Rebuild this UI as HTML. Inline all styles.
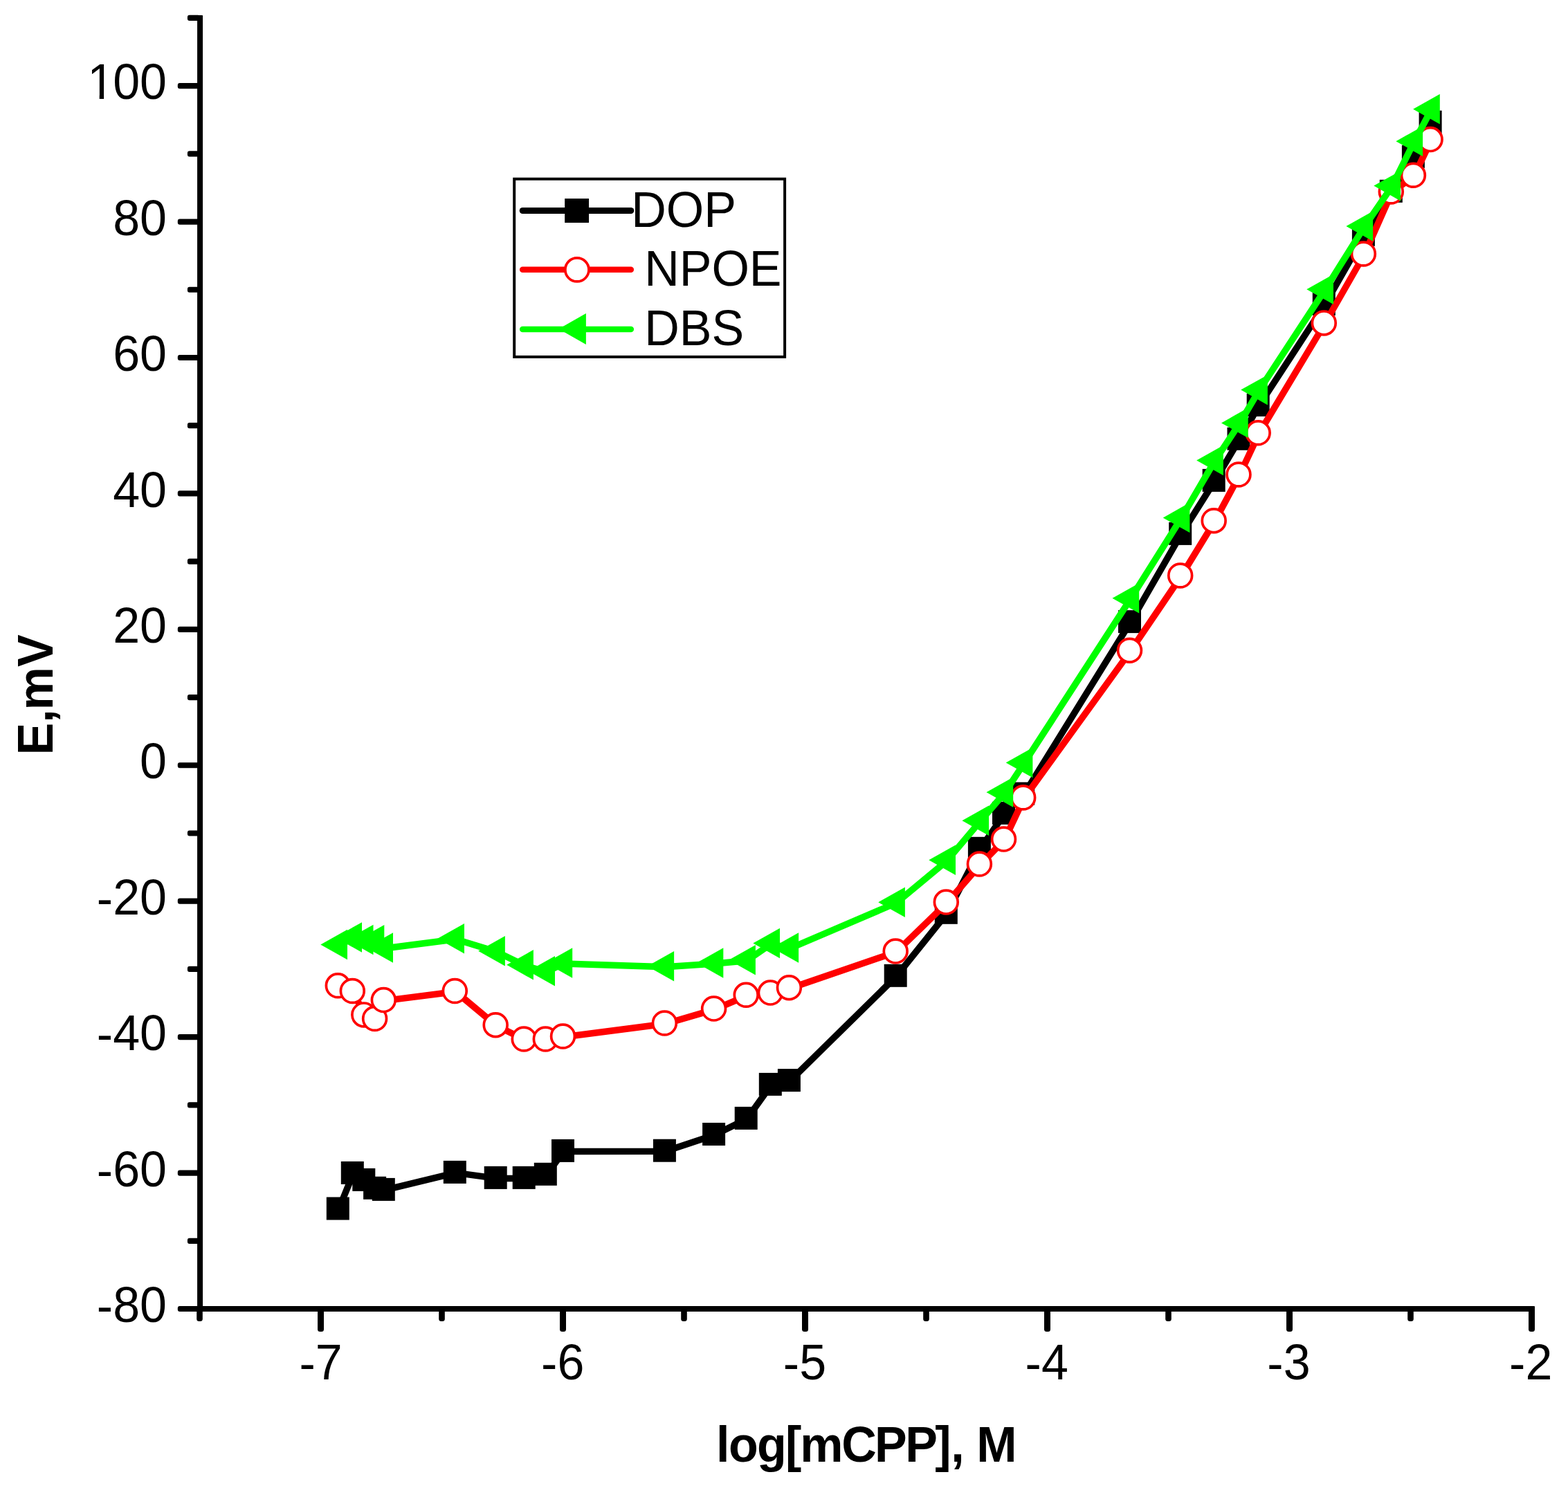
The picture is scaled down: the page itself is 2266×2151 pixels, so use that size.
<!DOCTYPE html>
<html lang="en"><head><meta charset="utf-8"><title>E, mV vs log[mCPP]</title>
<style>html,body{margin:0;padding:0;background:#fff}body{width:2266px;height:2151px;overflow:hidden}svg{display:block}text{font-family:"Liberation Sans",Arial,sans-serif;font-size:70px;fill:#000}.b{font-weight:bold}</style></head><body>
<svg width="2266" height="2151" viewBox="0 0 2266 2151">
<rect x="0" y="0" width="2266" height="2151" fill="#fff"/>
<g id="axes">
<rect x="285.05" y="21.90" width="8.00" height="1874.10" fill="#000" rx="1.0"/>
<rect x="285.05" y="1888.00" width="1932.95" height="8.00" fill="#000" rx="1.0"/>
<rect x="270.90" y="21.80" width="18.15" height="8.20" fill="#000" rx="3.0"/>
<rect x="256.80" y="120.02" width="32.25" height="8.20" fill="#000" rx="3.0"/>
<rect x="270.90" y="218.23" width="18.15" height="8.20" fill="#000" rx="3.0"/>
<rect x="256.80" y="316.45" width="32.25" height="8.20" fill="#000" rx="3.0"/>
<rect x="270.90" y="414.66" width="18.15" height="8.20" fill="#000" rx="3.0"/>
<rect x="256.80" y="512.88" width="32.25" height="8.20" fill="#000" rx="3.0"/>
<rect x="270.90" y="611.09" width="18.15" height="8.20" fill="#000" rx="3.0"/>
<rect x="256.80" y="709.31" width="32.25" height="8.20" fill="#000" rx="3.0"/>
<rect x="270.90" y="807.53" width="18.15" height="8.20" fill="#000" rx="3.0"/>
<rect x="256.80" y="905.74" width="32.25" height="8.20" fill="#000" rx="3.0"/>
<rect x="270.90" y="1003.96" width="18.15" height="8.20" fill="#000" rx="3.0"/>
<rect x="256.80" y="1102.17" width="32.25" height="8.20" fill="#000" rx="3.0"/>
<rect x="270.90" y="1200.39" width="18.15" height="8.20" fill="#000" rx="3.0"/>
<rect x="256.80" y="1298.61" width="32.25" height="8.20" fill="#000" rx="3.0"/>
<rect x="270.90" y="1396.82" width="18.15" height="8.20" fill="#000" rx="3.0"/>
<rect x="256.80" y="1495.04" width="32.25" height="8.20" fill="#000" rx="3.0"/>
<rect x="270.90" y="1593.25" width="18.15" height="8.20" fill="#000" rx="3.0"/>
<rect x="256.80" y="1691.47" width="32.25" height="8.20" fill="#000" rx="3.0"/>
<rect x="270.90" y="1789.68" width="18.15" height="8.20" fill="#000" rx="3.0"/>
<rect x="256.80" y="1887.90" width="32.25" height="8.20" fill="#000" rx="3.0"/>
<rect x="284.20" y="1892.00" width="8.60" height="18.00" fill="#000" rx="3.5"/>
<rect x="459.00" y="1892.00" width="9.00" height="33.00" fill="#000" rx="3.5"/>
<rect x="634.20" y="1892.00" width="8.60" height="18.00" fill="#000" rx="3.5"/>
<rect x="809.00" y="1892.00" width="9.00" height="33.00" fill="#000" rx="3.5"/>
<rect x="984.20" y="1892.00" width="8.60" height="18.00" fill="#000" rx="3.5"/>
<rect x="1159.00" y="1892.00" width="9.00" height="33.00" fill="#000" rx="3.5"/>
<rect x="1334.20" y="1892.00" width="8.60" height="18.00" fill="#000" rx="3.5"/>
<rect x="1509.00" y="1892.00" width="9.00" height="33.00" fill="#000" rx="3.5"/>
<rect x="1684.20" y="1892.00" width="8.60" height="18.00" fill="#000" rx="3.5"/>
<rect x="1859.00" y="1892.00" width="9.00" height="33.00" fill="#000" rx="3.5"/>
<rect x="2034.20" y="1892.00" width="8.60" height="18.00" fill="#000" rx="3.5"/>
<rect x="2209.00" y="1892.00" width="9.00" height="33.00" fill="#000" rx="3.5"/>
</g>
<g id="ylabels" text-anchor="end">
<clipPath id="c1" clipPathUnits="userSpaceOnUse"><rect x="100" y="72.92" width="160" height="64.20"/><rect x="143.71" y="136.42" width="6.39" height="12"/><rect x="164.64" y="136.42" width="90" height="12"/></clipPath>
<g clip-path="url(#c1)"><text text-anchor="start" transform="translate(124.21,142.92) scale(1,1.030)" x="2 38.93 77.86">100</text></g>
<text transform="translate(241.00,339.65) scale(1,1.030)">80</text>
<text transform="translate(241.00,536.08) scale(1,1.030)">60</text>
<text transform="translate(241.00,732.51) scale(1,1.030)">40</text>
<text transform="translate(241.00,928.94) scale(1,1.030)">20</text>
<text transform="translate(241.00,1125.37) scale(1,1.030)">0</text>
<text transform="translate(241.00,1321.81) scale(1,1.030)" dy="1.1 -1.1">-20</text>
<text transform="translate(241.00,1518.24) scale(1,1.030)" dy="1.1 -1.1">-40</text>
<text transform="translate(241.00,1714.67) scale(1,1.030)" dy="1.1 -1.1">-60</text>
<text transform="translate(241.00,1911.10) scale(1,1.030)" dy="1.1 -1.1">-80</text>
</g>
<g id="xlabels" text-anchor="middle">
<text transform="translate(463.50,1993.90) scale(1,1.030)" dy="1.1 -1.1">-7</text>
<text transform="translate(813.24,1993.90) scale(1,1.030)" dy="1.1 -1.1">-6</text>
<text transform="translate(1162.98,1993.90) scale(1,1.030)" dy="1.1 -1.1">-5</text>
<text transform="translate(1512.72,1993.90) scale(1,1.030)" dy="1.1 -1.1">-4</text>
<text transform="translate(1862.46,1993.90) scale(1,1.030)" dy="1.1 -1.1">-3</text>
<text transform="translate(2212.20,1993.90) scale(1,1.030)" dy="1.1 -1.1">-2</text>
</g>
<text class="b" transform="translate(1035.10,2113.00) scale(1,1.025)" x="0.0 18.0 58.8 100.0 121.2 181.2 229.0 273.1 316.1 339.2 356.9 376.2">log[mCPP], M</text>
<text class="b" transform="translate(76.00,1091.60) rotate(-90) scale(1,1.030)" x="0.00 46.95 65.10 127.50">E,mV</text>
<g id="dop">
<polyline points="489.5,1748.0 510.5,1696.4 527.0,1706.4 542.8,1718.3 555.5,1720.4 658.5,1695.4 717.4,1703.4 758.4,1703.4 789.5,1698.3 814.7,1664.4 961.6,1664.2 1032.8,1640.5 1079.4,1617.4 1114.5,1568.4 1141.6,1562.6 1295.4,1411.3 1368.5,1320.3 1416.6,1227.3 1451.7,1176.4 1479.9,1148.2 1633.7,899.6 1706.9,772.4 1755.4,695.4 1791.2,635.3 1819.4,586.5 1914.5,440.5 1971.6,340.3 2011.5,277.3 2043.6,227.4 2068.3,177.3" fill="none" stroke="#000" stroke-width="9.5" stroke-linejoin="round" stroke-linecap="butt"/>
<rect x="471.80" y="1730.50" width="33.00" height="33.00" fill="#000"/>
<rect x="492.80" y="1678.90" width="33.00" height="33.00" fill="#000"/>
<rect x="509.30" y="1688.90" width="33.00" height="33.00" fill="#000"/>
<rect x="525.10" y="1700.80" width="33.00" height="33.00" fill="#000"/>
<rect x="537.80" y="1702.90" width="33.00" height="33.00" fill="#000"/>
<rect x="640.80" y="1677.90" width="33.00" height="33.00" fill="#000"/>
<rect x="699.70" y="1685.90" width="33.00" height="33.00" fill="#000"/>
<rect x="740.70" y="1685.90" width="33.00" height="33.00" fill="#000"/>
<rect x="771.80" y="1680.80" width="33.00" height="33.00" fill="#000"/>
<rect x="797.00" y="1646.90" width="33.00" height="33.00" fill="#000"/>
<rect x="943.90" y="1646.70" width="33.00" height="33.00" fill="#000"/>
<rect x="1015.10" y="1623.00" width="33.00" height="33.00" fill="#000"/>
<rect x="1061.70" y="1599.90" width="33.00" height="33.00" fill="#000"/>
<rect x="1096.80" y="1550.90" width="33.00" height="33.00" fill="#000"/>
<rect x="1123.90" y="1545.10" width="33.00" height="33.00" fill="#000"/>
<rect x="1277.70" y="1393.80" width="33.00" height="33.00" fill="#000"/>
<rect x="1350.80" y="1302.80" width="33.00" height="33.00" fill="#000"/>
<rect x="1398.90" y="1209.80" width="33.00" height="33.00" fill="#000"/>
<rect x="1434.00" y="1158.90" width="33.00" height="33.00" fill="#000"/>
<rect x="1462.20" y="1130.70" width="33.00" height="33.00" fill="#000"/>
<rect x="1616.00" y="882.10" width="33.00" height="33.00" fill="#000"/>
<rect x="1689.20" y="754.90" width="33.00" height="33.00" fill="#000"/>
<rect x="1737.70" y="677.90" width="33.00" height="33.00" fill="#000"/>
<rect x="1773.50" y="617.80" width="33.00" height="33.00" fill="#000"/>
<rect x="1801.70" y="569.00" width="33.00" height="33.00" fill="#000"/>
<rect x="1896.80" y="423.00" width="33.00" height="33.00" fill="#000"/>
<rect x="1953.90" y="322.80" width="33.00" height="33.00" fill="#000"/>
<rect x="1993.80" y="259.80" width="33.00" height="33.00" fill="#000"/>
<rect x="2025.90" y="209.90" width="33.00" height="33.00" fill="#000"/>
<rect x="2050.60" y="159.80" width="33.00" height="33.00" fill="#000"/>
</g>
<g id="npoe">
<polyline points="489.5,1425.8 510.5,1433.5 527.0,1467.9 542.8,1473.5 555.5,1446.6 658.5,1433.5 717.4,1482.7 758.4,1503.0 789.5,1503.0 814.7,1499.0 961.6,1480.0 1032.8,1459.1 1079.4,1439.3 1114.5,1436.1 1141.6,1428.7 1295.4,1376.1 1368.5,1305.1 1416.6,1250.0 1451.7,1214.1 1479.9,1154.0 1633.7,941.2 1706.9,833.0 1755.4,753.7 1791.2,687.0 1819.4,626.8 1914.5,467.9 1971.6,368.0 2011.5,278.0 2043.6,254.3 2068.3,202.6" fill="none" stroke="#f00" stroke-width="9.5" stroke-linejoin="round" stroke-linecap="butt"/>
<circle cx="488.3" cy="1424.8" r="16.90" fill="#fff" stroke="#f00" stroke-width="3.7"/>
<circle cx="509.3" cy="1432.5" r="16.90" fill="#fff" stroke="#f00" stroke-width="3.7"/>
<circle cx="525.8" cy="1466.9" r="16.90" fill="#fff" stroke="#f00" stroke-width="3.7"/>
<circle cx="541.6" cy="1472.5" r="16.90" fill="#fff" stroke="#f00" stroke-width="3.7"/>
<circle cx="554.3" cy="1445.6" r="16.90" fill="#fff" stroke="#f00" stroke-width="3.7"/>
<circle cx="657.3" cy="1432.5" r="16.90" fill="#fff" stroke="#f00" stroke-width="3.7"/>
<circle cx="716.2" cy="1481.7" r="16.90" fill="#fff" stroke="#f00" stroke-width="3.7"/>
<circle cx="757.2" cy="1502.0" r="16.90" fill="#fff" stroke="#f00" stroke-width="3.7"/>
<circle cx="788.3" cy="1502.0" r="16.90" fill="#fff" stroke="#f00" stroke-width="3.7"/>
<circle cx="813.5" cy="1498.0" r="16.90" fill="#fff" stroke="#f00" stroke-width="3.7"/>
<circle cx="960.4" cy="1479.0" r="16.90" fill="#fff" stroke="#f00" stroke-width="3.7"/>
<circle cx="1031.6" cy="1458.1" r="16.90" fill="#fff" stroke="#f00" stroke-width="3.7"/>
<circle cx="1078.2" cy="1438.3" r="16.90" fill="#fff" stroke="#f00" stroke-width="3.7"/>
<circle cx="1113.3" cy="1435.1" r="16.90" fill="#fff" stroke="#f00" stroke-width="3.7"/>
<circle cx="1140.4" cy="1427.7" r="16.90" fill="#fff" stroke="#f00" stroke-width="3.7"/>
<circle cx="1294.2" cy="1375.1" r="16.90" fill="#fff" stroke="#f00" stroke-width="3.7"/>
<circle cx="1367.3" cy="1304.1" r="16.90" fill="#fff" stroke="#f00" stroke-width="3.7"/>
<circle cx="1415.4" cy="1249.0" r="16.90" fill="#fff" stroke="#f00" stroke-width="3.7"/>
<circle cx="1450.5" cy="1213.1" r="16.90" fill="#fff" stroke="#f00" stroke-width="3.7"/>
<circle cx="1478.7" cy="1153.0" r="16.90" fill="#fff" stroke="#f00" stroke-width="3.7"/>
<circle cx="1632.5" cy="940.2" r="16.90" fill="#fff" stroke="#f00" stroke-width="3.7"/>
<circle cx="1705.7" cy="832.0" r="16.90" fill="#fff" stroke="#f00" stroke-width="3.7"/>
<circle cx="1754.2" cy="752.7" r="16.90" fill="#fff" stroke="#f00" stroke-width="3.7"/>
<circle cx="1790.0" cy="686.0" r="16.90" fill="#fff" stroke="#f00" stroke-width="3.7"/>
<circle cx="1818.2" cy="625.8" r="16.90" fill="#fff" stroke="#f00" stroke-width="3.7"/>
<circle cx="1913.3" cy="466.9" r="16.90" fill="#fff" stroke="#f00" stroke-width="3.7"/>
<circle cx="1970.4" cy="367.0" r="16.90" fill="#fff" stroke="#f00" stroke-width="3.7"/>
<circle cx="2010.3" cy="277.0" r="16.90" fill="#fff" stroke="#f00" stroke-width="3.7"/>
<circle cx="2042.4" cy="253.3" r="16.90" fill="#fff" stroke="#f00" stroke-width="3.7"/>
<circle cx="2067.1" cy="201.6" r="16.90" fill="#fff" stroke="#f00" stroke-width="3.7"/>
</g>
<g id="dbs">
<polyline points="489.5,1366.5 510.5,1355.9 527.0,1359.4 542.8,1359.8 555.5,1371.0 658.5,1357.8 717.4,1375.8 758.4,1395.8 789.5,1404.8 814.7,1392.9 961.6,1397.8 1032.8,1392.9 1079.4,1388.7 1114.5,1364.4 1141.6,1371.0 1295.4,1305.2 1368.5,1244.3 1416.6,1187.3 1451.7,1146.3 1479.9,1103.4 1633.7,865.8 1706.9,749.4 1755.4,666.5 1791.2,612.4 1819.4,564.6 1914.5,419.3 1971.6,328.0 2011.5,269.6 2043.6,205.2 2068.3,158.7" fill="none" stroke="#0f0" stroke-width="9.5" stroke-linejoin="round" stroke-linecap="butt"/>
<polygon points="463.3,1365.5 502.0,1343.8 502.0,1387.2" fill="#0f0"/>
<polygon points="484.3,1354.9 523.0,1333.2 523.0,1376.7" fill="#0f0"/>
<polygon points="500.8,1358.4 539.5,1336.7 539.5,1380.2" fill="#0f0"/>
<polygon points="516.6,1358.8 555.3,1337.0 555.3,1380.5" fill="#0f0"/>
<polygon points="529.3,1370.0 568.0,1348.2 568.0,1391.8" fill="#0f0"/>
<polygon points="632.3,1356.8 671.0,1335.0 671.0,1378.5" fill="#0f0"/>
<polygon points="691.2,1374.8 729.9,1353.0 729.9,1396.5" fill="#0f0"/>
<polygon points="732.2,1394.8 770.9,1373.0 770.9,1416.5" fill="#0f0"/>
<polygon points="763.3,1403.8 802.0,1382.0 802.0,1425.5" fill="#0f0"/>
<polygon points="788.5,1391.9 827.2,1370.2 827.2,1413.7" fill="#0f0"/>
<polygon points="935.4,1396.8 974.1,1375.0 974.1,1418.5" fill="#0f0"/>
<polygon points="1006.6,1391.9 1045.3,1370.2 1045.3,1413.7" fill="#0f0"/>
<polygon points="1053.2,1387.7 1091.9,1366.0 1091.9,1409.5" fill="#0f0"/>
<polygon points="1088.3,1363.4 1127.0,1341.7 1127.0,1385.2" fill="#0f0"/>
<polygon points="1115.4,1370.0 1154.1,1348.2 1154.1,1391.8" fill="#0f0"/>
<polygon points="1269.2,1304.2 1307.9,1282.5 1307.9,1326.0" fill="#0f0"/>
<polygon points="1342.3,1243.3 1381.0,1221.5 1381.0,1265.0" fill="#0f0"/>
<polygon points="1390.4,1186.3 1429.1,1164.5 1429.1,1208.0" fill="#0f0"/>
<polygon points="1425.5,1145.3 1464.2,1123.5 1464.2,1167.0" fill="#0f0"/>
<polygon points="1453.7,1102.4 1492.4,1080.7 1492.4,1124.2" fill="#0f0"/>
<polygon points="1607.5,864.8 1646.2,843.0 1646.2,886.5" fill="#0f0"/>
<polygon points="1680.7,748.4 1719.4,726.6 1719.4,770.1" fill="#0f0"/>
<polygon points="1729.2,665.5 1767.9,643.8 1767.9,687.2" fill="#0f0"/>
<polygon points="1765.0,611.4 1803.7,589.6 1803.7,633.1" fill="#0f0"/>
<polygon points="1793.2,563.6 1831.9,541.9 1831.9,585.4" fill="#0f0"/>
<polygon points="1888.3,418.3 1927.0,396.6 1927.0,440.1" fill="#0f0"/>
<polygon points="1945.4,327.0 1984.1,305.2 1984.1,348.8" fill="#0f0"/>
<polygon points="1985.3,268.6 2024.0,246.9 2024.0,290.4" fill="#0f0"/>
<polygon points="2017.4,204.2 2056.1,182.4 2056.1,225.9" fill="#0f0"/>
<polygon points="2042.1,157.7 2080.8,135.9 2080.8,179.4" fill="#0f0"/>
</g>
<g id="legend">
<rect x="743.20" y="258.70" width="390.90" height="257.20" fill="#fff" stroke="#000" stroke-width="4"/>
<line x1="755.2" y1="304.5" x2="911.8" y2="304.5" stroke="#000" stroke-width="9" stroke-linecap="round"/>
<rect x="816.15" y="287.05" width="34.90" height="34.90" fill="#000"/>
<line x1="755.2" y1="389.8" x2="911.8" y2="389.8" stroke="#f00" stroke-width="8.5" stroke-linecap="round"/>
<circle cx="833.9" cy="389.9" r="17.05" fill="#fff" stroke="#f00" stroke-width="3.7"/>
<line x1="755.2" y1="476.1" x2="911.8" y2="476.1" stroke="#0f0" stroke-width="8.5" stroke-linecap="round"/>
<polygon points="807.4,475.6 846.9,453.0 846.9,498.1" fill="#0f0"/>
<text transform="translate(912.20,328.10) scale(1,1.040)">DOP</text>
<text transform="translate(931.20,413.00) scale(1,1.040)">NPOE</text>
<text transform="translate(931.20,499.00) scale(1,1.040)">DBS</text>
</g>
</svg></body></html>
